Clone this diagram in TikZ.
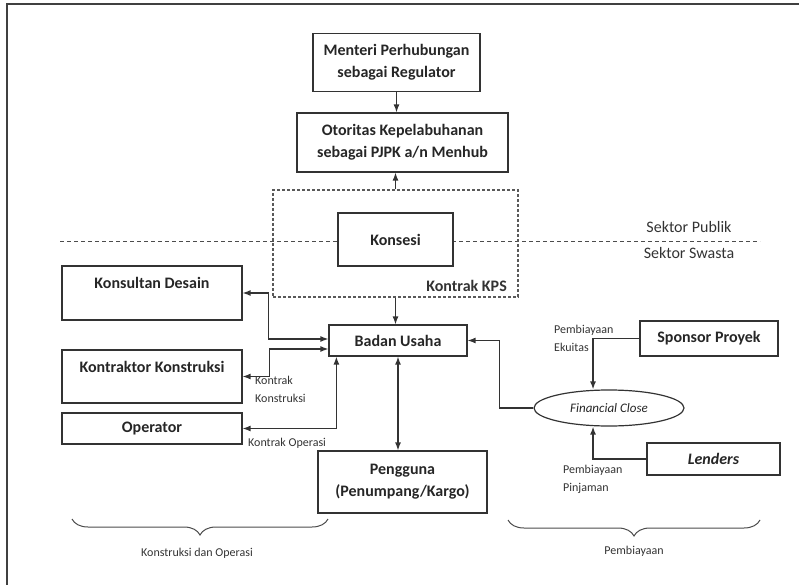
\documentclass[tikz,border=0pt]{standalone}
\usepackage{fontspec}
\setmainfont{Carlito}
\usepackage{tikz}
\usetikzlibrary{arrows.meta}
\usetikzlibrary{positioning,decorations.pathreplacing}
\usetikzlibrary{calc,shapes}
\tikzset{
    unit/.style={
        draw=black!80,
        rectangle,
        line width=1.2pt,
        align=center,
        font=\fontsize{16}{22}\selectfont\bfseries,
        text=black!85,
        inner sep=2pt
    },
    topunit/.style={unit, text depth=20pt},
    note/.style={
        font=\fontsize{12}{18}\selectfont,
        text=black!80,
        align=left,
        inner sep=1pt
    },
    flow/.style={
        draw=black!80,
        line width=1.3pt,
        -{Latex[length=8pt, width=6pt]}
    },
    twoway/.style={
        flow,
        {Latex[length=8pt, width=6pt]}-{Latex[length=8pt, width=6pt]}
    }
}

\begin{document}
\begin{tikzpicture}[x=1pt, y=-1pt]
  \useasboundingbox (0,0) rectangle (799,585);

  % Frame
  \draw[line width=1.5pt, black!75] (799,4) -- (7,4) -- (7,585);

  % Public / private divider
  \coordinate (sekL) at (60,241);
  \coordinate (sekR) at (760,241);
  \draw[black!70, line width=0.8pt, dash pattern=on 4pt off 3pt] (sekL) -- (sekR);
  \node[note, font=\fontsize{16}{18}\selectfont] (publik) at (689,227) {Sektor Publik};
  \node[note, font=\fontsize{16}{18}\selectfont] (swasta) at (689,253) {Sektor Swasta};

  % Government side
  \node[unit, minimum width=167pt, minimum height=58pt] (menteri) at (396.5,62.5)
    {Menteri Perhubungan\\sebagai Regulator};
  \node[unit, minimum width=211pt, minimum height=59pt] (otoritas) at (402.5,142.5)
    {Otoritas Kepelabuhanan\\sebagai PJPK a/n Menhub};

  % Kontrak KPS
  \node[draw=black!65, line width=1.2pt, dash pattern=on 3pt off 2pt,
        minimum width=245pt, minimum height=107pt] (kps) at (395.5,243.5) {};
  \node[unit, fill=white, minimum width=115pt, minimum height=53pt] (konsesi) at (395.5,239.5) {Konsesi};
  \node[note, font=\fontsize{16}{18}\selectfont\bfseries, anchor=east] (kpslabel) at (508,286) {Kontrak KPS};

  % Construction and operation
  \node[topunit, minimum width=180pt, minimum height=54pt] (konsultan) at (152,293) {Konsultan Desain};
  \node[topunit, minimum width=180pt, minimum height=53pt] (kontraktor) at (152,376.5) {Kontraktor Konstruksi};
  \node[unit, minimum width=180pt, minimum height=31pt] (operator) at (152,428.5) {Operator};
  \node[unit, minimum width=138pt, minimum height=31pt] (badan) at (398,340.5) {Badan Usaha};
  \node[unit, minimum width=169pt, minimum height=62pt] (pengguna) at (402.5,482)
    {Pengguna\\(Penumpang/Kargo)};

  % Financing
  \node[unit, minimum width=138pt, minimum height=35pt] (sponsor) at (709,338.5) {Sponsor Proyek};
  \node[unit, ellipse, font=\fontsize{13}{15}\selectfont\itshape,
        minimum width=150pt, minimum height=36pt] (fc) at (609,408) {Financial Close};
  \node[unit, font=\fontsize{16}{18}\selectfont\bfseries\itshape,
        minimum width=133pt, minimum height=32pt] (lenders) at (713.5,459) {Lenders};

  % Connectors
  \draw[flow] (menteri.south) -- (menteri.south |- otoritas.north);
  \draw[flow] (kps.north) -- (kps.north |- otoritas.south);
  \draw[flow] (kps.south) -- (kps.south |- badan.north);
  \draw[twoway] (konsultan.east) -- ++(26pt,0) |- ([yshift=1.5pt]badan.west);
  \draw[twoway] (kontraktor.east) -- ++(27pt,0) |- ([yshift=-8.5pt]badan.west);
  \draw[twoway] (operator.east) -| ([xshift=8pt]badan.south west);
  \draw[twoway] (badan.south) -- (badan.south |- pengguna.north);
  \draw[flow] (fc.west) -- ++(-34pt,0) |- (badan.east);
  \draw[flow] (sponsor.west) -| ([xshift=-16pt]fc.north);
  \draw[flow] (lenders.west) -| ([xshift=-16pt]fc.south);

  % Connector labels
  \node[note, anchor=north west] (kkonstruksi) at (254,375) {Kontrak\\Konstruksi};
  \node[note, anchor=west] (koperasi) at (247,443) {Kontrak Operasi};
  \node[note, anchor=west] (ekuitas) at (553,338) {Pembiayaan\\Ekuitas};
  \node[note, anchor=west] (pinjaman) at (562,479) {Pembiayaan\\Pinjaman};

  % Braces
  \coordinate (bkL) at (72,519);
  \coordinate (bkR) at (328,519);
  \coordinate (bpL) at (508,520);
  \coordinate (bpR) at (760,520);
  \draw[black!70, line width=1pt, decorate, decoration={brace, mirror, amplitude=16pt}] (bkL) -- (bkR);
  \draw[black!70, line width=1pt, decorate, decoration={brace, mirror, amplitude=16pt}] (bpL) -- (bpR);
  \node[note] (kolabel) at (197,553) {Konstruksi dan Operasi};
  \node[note] (pblabel) at (634,551) {Pembiayaan};
\end{tikzpicture}
\end{document}
